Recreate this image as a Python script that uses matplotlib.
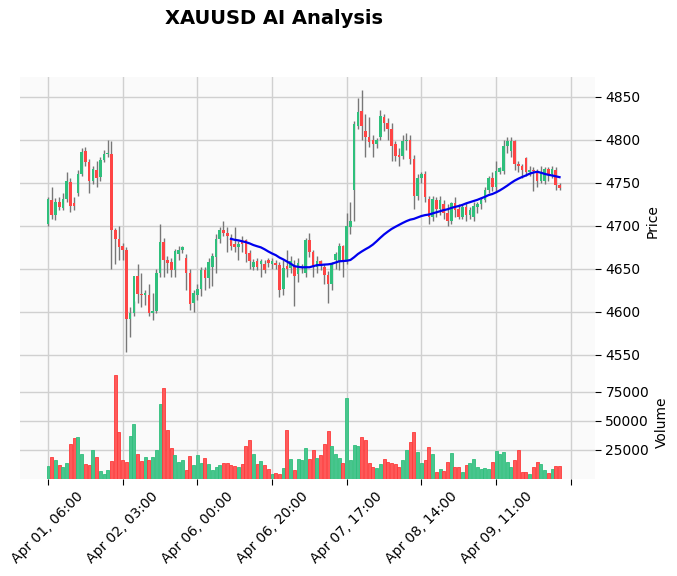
import numpy as np
import pandas as pd
import matplotlib
matplotlib.use('Agg')
import matplotlib.pyplot as plt

UPCOL = '#2fbf7c'
DNCOL = '#fe4545'
VUPCOL = '#48c58e'
VDNCOL = '#fe5a5a'

opens = [4702, 4730, 4712, 4728, 4721, 4731, 4751, 4726, 4738, 4760,
         4787, 4774, 4752, 4765, 4757, 4776, 4783, 4784, 4695, 4685,
         4676, 4672, 4592, 4598, 4642, 4621, 4619, 4620, 4599, 4601,
         4645, 4681, 4660, 4658, 4648, 4667, 4672, 4663, 4645, 4610,
         4620, 4626, 4648, 4639, 4652, 4664, 4684, 4695, 4692, 4686,
         4679, 4675, 4683, 4683, 4668, 4652, 4659, 4656, 4655, 4660,
         4656, 4657, 4654, 4626, 4653, 4651, 4653, 4644, 4651, 4645,
         4683, 4669, 4652, 4659, 4652, 4643, 4632, 4660, 4659, 4676,
         4660, 4698, 4742, 4816, 4834, 4810, 4803, 4800, 4795, 4803,
         4827, 4820, 4812, 4795, 4782, 4781, 4798, 4800, 4778, 4735,
         4756, 4760, 4731, 4710, 4730, 4720, 4725, 4715, 4706, 4726,
         4720, 4710, 4722, 4712, 4710, 4722, 4725, 4730, 4741, 4755,
         4745, 4763, 4764, 4793, 4787, 4798, 4772, 4769, 4779, 4762,
         4765, 4763, 4752, 4752, 4766, 4760, 4765, 4747]
closes = [4731, 4712, 4728, 4722, 4731, 4752, 4723, 4723, 4760, 4786,
          4774, 4752, 4766, 4756, 4777, 4783, 4785, 4695, 4684, 4675,
          4672, 4592, 4598, 4642, 4621, 4619, 4622, 4598, 4601, 4645,
          4681, 4660, 4657, 4648, 4671, 4672, 4675, 4645, 4609, 4622,
          4626, 4648, 4639, 4658, 4665, 4684, 4695, 4692, 4688, 4677,
          4675, 4679, 4679, 4667, 4659, 4658, 4652, 4659, 4648, 4657,
          4659, 4654, 4625, 4651, 4650, 4659, 4641, 4657, 4653, 4683,
          4669, 4652, 4659, 4655, 4643, 4632, 4655, 4667, 4676, 4659,
          4700, 4706, 4818, 4832, 4816, 4803, 4797, 4795, 4800, 4828,
          4819, 4812, 4793, 4781, 4780, 4798, 4800, 4778, 4735, 4756,
          4760, 4733, 4710, 4731, 4720, 4730, 4715, 4706, 4726, 4718,
          4710, 4722, 4712, 4718, 4723, 4725, 4730, 4741, 4755, 4745,
          4764, 4767, 4793, 4798, 4798, 4772, 4769, 4765, 4762, 4765,
          4764, 4752, 4762, 4766, 4760, 4766, 4747, 4744]
highs = [4733, 4745, 4732, 4733, 4738, 4762, 4756, 4733, 4765, 4790,
         4792, 4778, 4770, 4775, 4780, 4788, 4800, 4798, 4697, 4700,
         4680, 4675, 4605, 4612, 4655, 4645, 4625, 4632, 4622, 4650,
         4702, 4686, 4665, 4663, 4673, 4676, 4677, 4667, 4650, 4625,
         4632, 4652, 4652, 4662, 4668, 4690, 4698, 4705, 4698, 4690,
         4699, 4682, 4688, 4685, 4672, 4661, 4662, 4661, 4660, 4663,
         4662, 4660, 4658, 4660, 4672, 4665, 4660, 4662, 4656, 4686,
         4692, 4672, 4665, 4660, 4656, 4647, 4658, 4670, 4680, 4678,
         4715, 4728, 4822, 4848, 4858, 4830, 4826, 4805, 4802, 4835,
         4830, 4825, 4820, 4798, 4790, 4806, 4808, 4806, 4782, 4760,
         4763, 4764, 4735, 4735, 4733, 4735, 4730, 4725, 4728, 4733,
         4725, 4725, 4726, 4722, 4728, 4728, 4733, 4745, 4758, 4762,
         4775, 4768, 4800, 4803, 4803, 4800, 4775, 4772, 4780, 4770,
         4768, 4766, 4770, 4768, 4768, 4769, 4768, 4750]
lows = [4700, 4708, 4707, 4718, 4718, 4728, 4716, 4718, 4735, 4758,
        4770, 4738, 4748, 4745, 4752, 4774, 4780, 4650, 4655, 4660,
        4660, 4553, 4570, 4595, 4610, 4605, 4608, 4595, 4590, 4598,
        4640, 4640, 4645, 4640, 4640, 4660, 4668, 4625, 4602, 4600,
        4614, 4618, 4625, 4628, 4630, 4645, 4680, 4688, 4670, 4672,
        4670, 4660, 4670, 4658, 4650, 4648, 4648, 4640, 4645, 4652,
        4650, 4650, 4617, 4620, 4640, 4645, 4607, 4635, 4645, 4640,
        4664, 4640, 4645, 4648, 4632, 4610, 4625, 4650, 4648, 4640,
        4655, 4690, 4705, 4812, 4800, 4780, 4792, 4780, 4790, 4800,
        4810, 4800, 4775, 4775, 4770, 4778, 4788, 4772, 4720, 4730,
        4750, 4728, 4702, 4705, 4710, 4712, 4708, 4700, 4702, 4710,
        4708, 4708, 4705, 4708, 4705, 4715, 4720, 4728, 4738, 4740,
        4740, 4760, 4760, 4785, 4780, 4765, 4762, 4755, 4758, 4758,
        4740, 4745, 4750, 4748, 4752, 4755, 4742, 4742]
volumes = [11200, 18600, 16300, 11700, 10000, 13400, 30000, 34900, 35700, 21200,
           12600, 11700, 24900, 18600, 6900, 4300, 7700, 15400, 89200, 40300,
           16300, 14600, 36900, 47200, 21500, 15400, 18600, 16300, 18600, 24900,
           64300, 78100, 42000, 26300, 20600, 14600, 16300, 7700, 19700, 12000,
           20600, 13400, 18000, 12900, 7700, 10000, 11700, 13700, 13700, 12300,
           11200, 10300, 12900, 28300, 33500, 21500, 12900, 15400, 12000, 8600,
           4300, 5100, 4300, 9200, 42000, 17200, 7700, 17200, 16300, 26600,
           17200, 24900, 18000, 20600, 30000, 41200, 28300, 21500, 18000, 13700,
           69500, 16300, 29200, 28300, 35700, 33500, 13400, 10000, 9200, 12900,
           17200, 14600, 13400, 12900, 10000, 16300, 24900, 31700, 40300, 23200,
           13400, 16300, 27200, 21500, 6000, 8600, 6900, 14600, 22300, 10300,
           10300, 6000, 12000, 13700, 17200, 10300, 8600, 9400, 8600, 14600,
           24000, 21500, 23200, 14600, 10300, 16300, 24900, 6000, 6000, 4300,
           10300, 14600, 12900, 7700, 5100, 8600, 11200, 11000]
tick_pos = [0, 20, 40, 60, 80, 100, 120, 140]
tick_labels = ['Apr 01, 06:00', 'Apr 02, 03:00', 'Apr 06, 00:00', 'Apr 06, 20:00',
               'Apr 07, 17:00', 'Apr 08, 14:00', 'Apr 09, 11:00', '']

df = pd.DataFrame({'Open': opens, 'High': highs, 'Low': lows,
                   'Close': closes, 'Volume': volumes})
df['MA'] = df['Close'].rolling(50).mean()
x = np.arange(len(df))
up = df['Close'] >= df['Open']

fig = plt.figure(figsize=(6.77, 5.76), dpi=100)
W, H = 677., 576.
ax = fig.add_axes([20/W, 1-365/H, 575/W, 288/H])
axv = fig.add_axes([20/W, 1-479/H, 575/W, 114/H], sharex=ax)

for a in (ax, axv):
    a.set_facecolor('#fafafa')
    a.grid(True, color='#d0d0d0', linewidth=1)
    a.set_axisbelow(True)
    for s in a.spines.values():
        s.set_visible(False)
    a.yaxis.tick_right()
    a.yaxis.set_label_position('right')
    a.tick_params(axis='y', length=4, color='black', labelsize=10)

ax.vlines(x, df['Low'], df['High'], color='#777777', linewidth=1, zorder=2)
body_b = np.minimum(df['Open'], df['Close'])
body_h = np.maximum(np.abs(df['Close'] - df['Open']), 0.6)
ax.bar(x, body_h, bottom=body_b, width=0.7,
       color=np.where(up, UPCOL, DNCOL), zorder=3)
ax.plot(x, df['MA'], color='#0000ee', linewidth=1.6, zorder=4)
ax.set_ylim(4538, 4873)
ax.set_yticks([4550, 4600, 4650, 4700, 4750, 4800, 4850])
ax.set_ylabel('Price', fontsize=10)
ax.tick_params(axis='x', labelbottom=False, length=0)

axv.bar(x, df['Volume'], width=0.8, color=np.where(up, VUPCOL, VDNCOL),
        edgecolor=np.where(up, '#2fbf7c', '#fe3a3a'), linewidth=0.6, zorder=3)
axv.set_ylim(0, 98000)
axv.set_yticks([25000, 50000, 75000])
axv.set_ylabel('Volume', fontsize=10)
axv.set_xlim(-7.5, 146.5)
axv.set_xticks(tick_pos)
axv.set_xticklabels(tick_labels, rotation=45, ha='center', fontsize=10)
axv.tick_params(axis='x', length=4)

fig.text(274/W, 1-19/H, 'XAUUSD AI Analysis', ha='center', va='center',
         fontsize=14, fontweight='bold')
fig.savefig('out.png', dpi=100)
